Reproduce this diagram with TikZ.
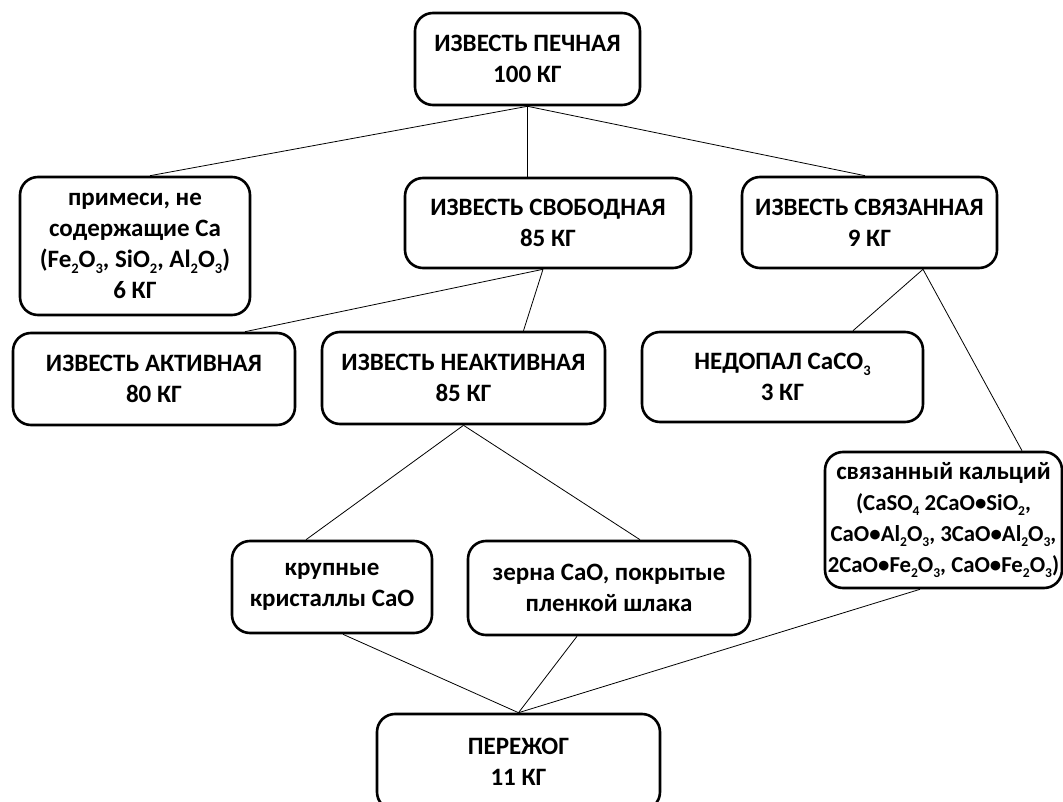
\documentclass[tikz,border=0pt]{standalone}
\usepackage{fontspec}
\setmainfont{Carlito}
\newcommand\lowsub[1]{\raisebox{-0.22em}{\fontsize{14.5}{14.5}\selectfont #1}}
\newcommand\smsub[1]{\raisebox{-0.22em}{\fontsize{13.5}{13.5}\selectfont #1}}
\begin{document}
\begin{tikzpicture}[x=1pt,y=-1pt,
  box/.style={draw, line width=2.6pt, rounded corners=18pt, inner sep=0pt, align=center,
    font={\fontsize{25}{31}\selectfont\bfseries}, fill=white},
  link/.style={line width=0.8pt}]
\clip (0,0) rectangle (1063,802);
\useasboundingbox (0,0) rectangle (1063,802);

\node[box, minimum width=225pt, minimum height=92pt] (top) at (527.5,59) {ИЗВЕСТЬ ПЕЧНАЯ\\100 КГ};
\node[box, minimum width=230pt, minimum height=138pt] (prim) at (135,246) {примеси, не\\содержащие Ca\\(Fe\lowsub{2}O\lowsub{3}, SiO\lowsub{2}, Al\lowsub{2}O\lowsub{3})\\6 КГ};
\node[box, minimum width=286pt, minimum height=90pt] (svob) at (548,223) {ИЗВЕСТЬ СВОБОДНАЯ\\85 КГ};
\node[box, minimum width=255pt, minimum height=91pt] (svyaz) at (869.5,222.5) {ИЗВЕСТЬ СВЯЗАННАЯ\\9 КГ};
\node[box, minimum width=282pt, minimum height=92pt] (akt) at (154,379) {ИЗВЕСТЬ АКТИВНАЯ\\80 КГ};
\node[box, minimum width=283pt, minimum height=92pt] (neakt) at (463.5,378) {ИЗВЕСТЬ НЕАКТИВНАЯ\\85 КГ};
\node[box, minimum width=281pt, minimum height=90pt] (nedop) at (782.5,377) {НЕДОПАЛ CaCO\lowsub{3}\\3 КГ};
\node[box, minimum width=237pt, minimum height=136pt] (kalc) at (943.5,520) {связанный кальций\\{\fontsize{22.8}{31}\selectfont (CaSO\smsub{4} 2CaO•SiO\smsub{2},}\\{\fontsize{22.8}{31}\selectfont CaO•Al\smsub{2}O\smsub{3}, 3CaO•Al\smsub{2}O\smsub{3},}\\{\fontsize{22.8}{31}\selectfont 2CaO•Fe\smsub{2}O\smsub{3}, CaO•Fe\smsub{2}O\smsub{3})}};
\node[box, minimum width=200pt, minimum height=92pt] (krup) at (332,587) {крупные\\кристаллы CaO};
\node[box, minimum width=282pt, minimum height=94pt] (zerna) at (609,588) {зерна CaO, покрытые\\пленкой шлака};
\node[box, minimum width=283pt, minimum height=96pt] (perezh) at (518.5,762) {ПЕРЕЖОГ\\11 КГ};

\draw[link] (top.south) -- ([xshift=15pt]prim.north);
\draw[link] (top.south) -- (top.south |- svob.north);
\draw[link] (top.south) -- ([xshift=-4.5pt]svyaz.north);
\draw[link] ([xshift=-5pt]svob.south) -- ([xshift=91pt]akt.north);
\draw[link] ([xshift=-5pt]svob.south) -- ([xshift=60pt]neakt.north);
\draw[link] ([xshift=53.5pt]svyaz.south) -- ([xshift=70.5pt]nedop.north);
\draw[link] ([xshift=53.5pt]svyaz.south) -- ([xshift=78.5pt]kalc.north);
\draw[link] (neakt.south) -- ([xshift=-26pt]krup.north);
\draw[link] (neakt.south) -- ([xshift=31pt]zerna.north);
\draw[link] ([xshift=11pt]krup.south) -- (perezh.north);
\draw[link] ([xshift=-32pt]zerna.south) -- (perezh.north);
\draw[link] ([xshift=-23.5pt]kalc.south) -- (perezh.north);
\end{tikzpicture}
\end{document}
